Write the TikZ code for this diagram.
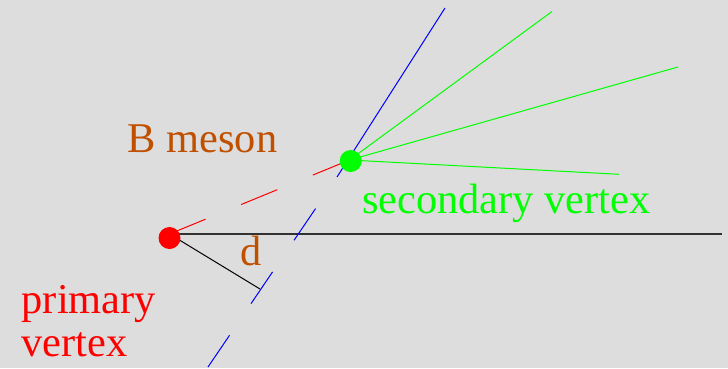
\documentclass[tikz,border=0pt]{standalone}
\usepackage{fontspec}
\setmainfont{Liberation Serif}
\newfontfamily\lserif{Liberation Serif}
\definecolor{bg}{RGB}{221,221,221}
\definecolor{brownlbl}{RGB}{192,80,0}
\definecolor{hline}{RGB}{50,50,50}
\begin{document}
\begin{tikzpicture}[x=1pt,y=-1pt,
  track/.style={line width=1pt},
  dot/.style={circle,inner sep=0pt,minimum size=22pt,draw=none},
  lbl/.style={inner sep=0pt,anchor=base west,font=\lserif\fontsize{42.4}{43}\selectfont}]
\fill[bg] (0,0) rectangle (728,368);
\useasboundingbox (0,0) rectangle (728,368);
% geometric points
\coordinate (pv) at (169.5,234);
\coordinate (sv) at (349.5,160);
\coordinate (hend) at (722,234);
\coordinate (bbot) at (208,367);
\coordinate (bmid) at (337,177);
\coordinate (btop) at (445,8);
\coordinate (foot) at (260,289);
\coordinate (g1) at (552,11.5);
\coordinate (g2) at (678,67);
\coordinate (g3) at (619,174.3);
% lines
\draw[hline,line width=1.6pt] (pv) -- (hend);
\draw[black,track] (pv) -- (foot);
\draw[red,track,dash pattern=on 39pt off 38.5pt] (pv) -- (sv);
\draw[blue,track,dash pattern=on 38.3pt off 38.3pt] (bbot) -- (bmid);
\draw[blue,track] (bmid) -- (btop);
\draw[green,track] (sv) -- (g1);
\draw[green,track] (sv) -- (g2);
\draw[green,track] (sv) -- (g3);
% vertices
\node[dot,fill=red] (pdot) at (169.5,238) {};
\node[dot,fill=green] (sdot) at (350.7,161) {};
% labels
\node[lbl,text=brownlbl] (bm) at (127.5,152.7) {B meson};
\node[lbl,text=brownlbl] (dl) at (240,265) {d};
\node[lbl,text=green] (sl) at (362,213.3) {secondary vertex};
\node[lbl,text=red,align=left] (pl) at (21.5,356) {primary\\vertex};
\end{tikzpicture}
\end{document}
